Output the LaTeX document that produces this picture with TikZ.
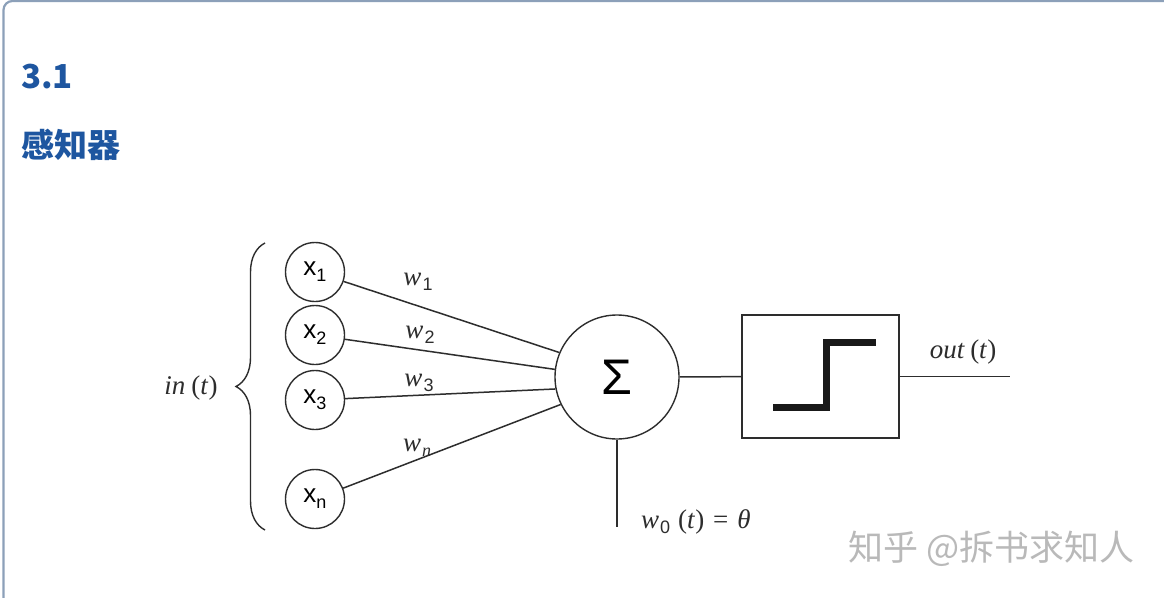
\documentclass[tikz,border=0pt]{standalone}
\usepackage{fontspec}
\usetikzlibrary{decorations.pathreplacing}
\newfontfamily\cjk{Noto Sans CJK SC}
\newfontfamily\lsans{Liberation Sans}
\newfontfamily\lserif{Liberation Serif}
\definecolor{titleblue}{RGB}{30,86,160}
\definecolor{framecol}{RGB}{140,160,185}
\definecolor{ink}{RGB}{45,45,45}
\definecolor{wm}{RGB}{185,185,185}
\newcommand{\sersz}{\fontsize{27}{27}\selectfont}
\newcommand{\subsz}{\fontsize{18}{18}\selectfont}
\newcommand{\wlab}[1]{{\lserif\itshape w}\hspace{1pt}\raisebox{-5pt}{\lsans\subsz #1}}
\newcommand{\xlab}[1]{{\lsans\fontsize{26}{26}\selectfont x\raisebox{-6pt}{\subsz #1}}}
\begin{document}
\begin{tikzpicture}[x=1pt,y=-1pt,
  inp/.style={circle,draw=ink,line width=1.4pt,minimum size=59pt,inner sep=0pt},
  conn/.style={draw=ink,line width=1.5pt},
  lab/.style={inner sep=0pt,text=ink,font=\sersz},
  title/.style={anchor=west,inner sep=0pt,text=titleblue,font=\cjk\bfseries\fontsize{33}{33}\selectfont}]
\useasboundingbox (0,0) rectangle (1164,597);
\fill[white] (0,0) rectangle (1164,597);
\draw[framecol,line width=2.2pt,rounded corners=9pt] (3.5,600) -- (3.5,1) -- (1170,1);
% titles
\node[title] (t1) at (21,77) {3.1};
\node[title] (t2) at (21,145) {感知器};
% inputs
\node[inp] (x1) at (315,272) {\xlab{1}};
\node[inp] (x2) at (315,335) {\xlab{2}};
\node[inp] (x3) at (315,400) {\xlab{3}};
\node[inp] (xn) at (315,499) {\xlab{\lsans n}};
% brace
\coordinate (bb) at (265,530);
\coordinate (bt) at (265,243);
\draw[ink,line width=1.4pt,decorate,decoration={brace,amplitude=29pt,aspect=0.5}] (bb) -- (bt);
\node[lab] (in) at (191,388) {{\lserif\itshape in}\hspace{6pt}{\lserif(\textit{t})}};
% sum
\node[inp,minimum size=124pt] (sig) at (617,377) {{\lsans\fontsize{50}{50}\selectfont Σ}};
\draw[conn] (x1) -- (sig.157);
\draw[conn] (x2) -- (sig.173);
\draw[conn] (x3) -- (sig.191);
\draw[conn] (xn) -- (sig.206);
\node[lab] (w1) at (418,282) {\wlab{1}};
\node[lab] (w2) at (420,335) {\wlab{2}};
\node[lab] (w3) at (419,383) {\wlab{3}};
\node[lab] (wn) at (417,448) {{\lserif\itshape w}\hspace{1pt}\raisebox{-5pt}{\lserif\itshape\subsz n}};
% step box
\node[draw=ink,line width=1.5pt,minimum width=157pt,minimum height=123pt,inner sep=0pt] (box) at (820.5,376.5) {};
\draw[conn] (sig) -- (box);
\draw[black!90,line width=7pt] (773,407) -- (826,407) -- (826,342.5) -- (876,342.5);
\coordinate (oend) at (1010,376.5);
\draw[conn] (box) -- (oend);
\node[lab] (out) at (963,352) {{\lserif\itshape out}\hspace{6pt}{\lserif(\textit{t})}};
% bias
\coordinate (bend) at (617,527);
\draw[conn] (sig) -- (bend);
\node[lab,anchor=west] (w0) at (641,522) {\wlab{0}\hspace{8pt}{\lserif(\textit{t})}\hspace{9pt}{\lserif=}\hspace{9pt}{\lserif\itshape θ}};
% watermark
\node[inner sep=0pt,anchor=west,text=wm,font=\cjk\fontsize{35}{35}\selectfont] (wmk) at (848,549) {知乎 @拆书求知人};
\end{tikzpicture}
\end{document}
